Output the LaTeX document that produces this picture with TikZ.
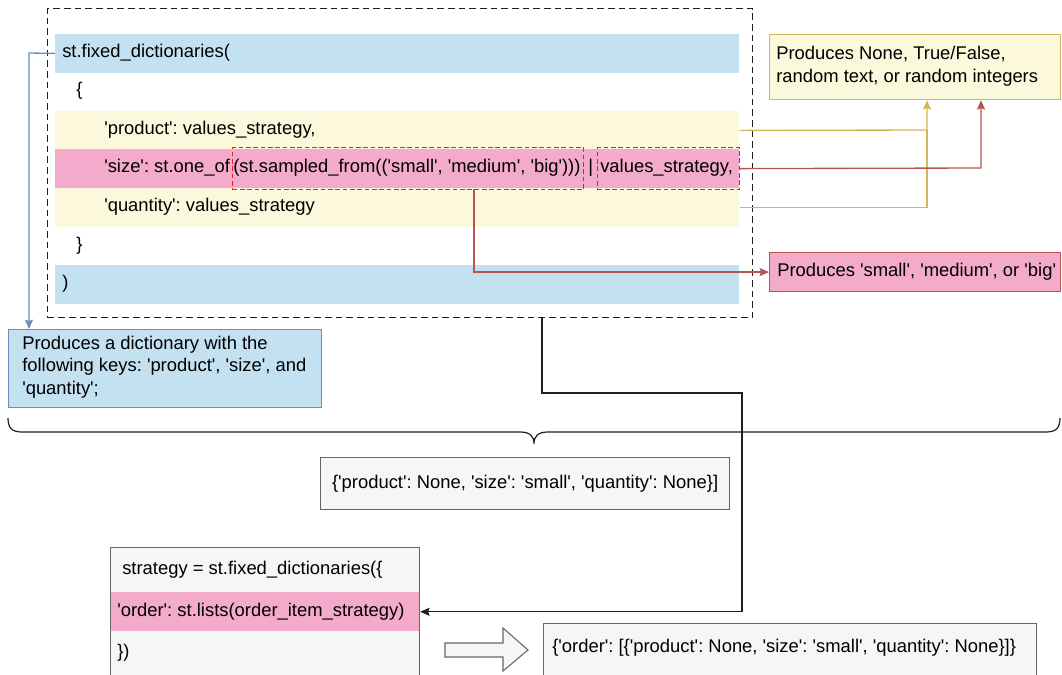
\documentclass[tikz,border=0pt]{standalone}
\usepackage{fontspec}
\setmainfont{Liberation Sans}[Ligatures=TeXOff]
\usetikzlibrary{arrows.meta,calc}
\frenchspacing
\definecolor{barblue}{RGB}{196,225,241}
\definecolor{baryellow}{RGB}{252,248,220}
\definecolor{barpink}{RGB}{244,170,202}
\definecolor{ylw}{RGB}{214,182,86}
\definecolor{rdl}{RGB}{184,84,80}
\definecolor{bll}{RGB}{108,142,191}
\definecolor{grayfill}{RGB}{245,246,245}
\definecolor{grayline}{RGB}{102,102,102}
\definecolor{dashred}{RGB}{235,30,30}
\definecolor{darkline}{RGB}{30,30,30}
\tikzset{
  txt/.style={anchor=west, inner sep=0pt, align=left},
  bar/.style={anchor=north west, inner sep=0pt, minimum width=513pt, minimum height=28.75pt},
  redbox/.style={draw=dashred, dash pattern=on 3.5pt off 2pt, line width=0.9pt},
  ann/.style={anchor=north west, inner sep=0pt, line width=0.9pt},
  graybox/.style={draw=grayline, fill=grayfill, line width=0.9pt},
  arr/.style={-{Stealth[length=7pt,width=6pt,inset=1pt]}, line width=1pt},
  codefont/.style={font=\fontsize{13.8}{16.9}\selectfont}
}
\begin{document}
\begin{tikzpicture}[x=0.75pt,y=-0.75pt, codefont]
\useasboundingbox (0,0) rectangle (1062,674);

% outer dashed box
\node[draw=darkline, dash pattern=on 5pt off 3pt, line width=0.9pt, anchor=north west,
      minimum width=528.75pt, minimum height=231.75pt, inner sep=0pt] (dash) at (47,8) {};

% bars
\node[bar, fill=barblue] (b1) at (55,34) {};
\node[bar, fill=baryellow] (pbar) at (55,111) {};
\node[bar, fill=barpink, minimum height=29.25pt] (sbar) at (55,149) {};
\node[bar, fill=baryellow] (qbar) at (55,188) {};
\node[bar, fill=barblue] (b2) at (55,265) {};

% red dashed boxes
\node[redbox, anchor=north west, minimum width=263.25pt, minimum height=31.5pt, inner sep=0pt] (sf) at (232,147) {};
\node[redbox, anchor=north west, minimum width=106.5pt, minimum height=31.5pt, inner sep=0pt] (vs) at (597,147) {};

% code text
\node[txt] (t1) at (62,53) {st.fixed\_dictionaries(};
\node[txt] (t2) at (76,91) {\{};
\node[txt] (t3) at (104,130) {'product': values\_strategy,};
\node[txt] (t4a) at (104,168) {'size': st.one\_of};
\node[txt] (t4b) at (233,168) {(st.sampled\_from(('small', 'medium', 'big')))};
\node[txt] (t4c) at (588,168) {|};
\node[txt] (t4d) at (600,168) {values\_strategy,};
\node[txt] (t5) at (104,207) {'quantity': values\_strategy};
\node[txt] (t6) at (76,246) {\}};
\node[txt] (t7) at (62,284) {)};

% annotations
\node[ann, draw=ylw, fill=baryellow, minimum width=218.25pt, minimum height=48.75pt] (ann1) at (769,34) {};
\node[txt] (ann1t) at (776,66.5) {Produces None, True/False,\\random text, or random integers};
\node[ann, draw=rdl, fill=barpink, minimum width=218.25pt, minimum height=29.25pt] (ann2) at (769,252) {};
\node[txt] (ann2t) at (777,271.5) {Produces 'small', 'medium', or 'big'};
\node[ann, draw=bll, fill=barblue, minimum width=234.75pt, minimum height=58.5pt] (ann3) at (8,329) {};
\node[txt] (ann3t) at (22,367) {Produces a dictionary with the\\following keys: 'product', 'size', and\\'quantity';};

% connectors
\coordinate (yj) at (927,130);
\draw[ylw, line width=1pt] (qbar.east) -| (yj);
\draw[arr, ylw] (pbar.east) -- (yj) -- (yj |- ann1.south);
\coordinate (rj) at (981,168);
\draw[arr, rdl] (vs.east) -- (rj) -- (rj |- ann1.south);
\coordinate (r2) at (474,189);
\draw[arr, rdl] (r2) |- (ann2.west);
\coordinate (bj) at (29,53);
\draw[arr, bll] (b1.west) -- (bj) -- (bj |- ann3.north);

% brace
\draw[darkline, line width=0.9pt] (8,418) .. controls (8,428) and (12,432) .. (22,432) -- (520,432)
  .. controls (530,432) and (534,436) .. (534,444)
  .. controls (534,436) and (538,432) .. (548,432) -- (1046,432)
  .. controls (1056,432) and (1060,428) .. (1060,418);

% output box
\node[graybox, anchor=north west, minimum width=306.75pt, minimum height=39pt, inner sep=0pt] (out1) at (320,457)
  {\{'product': None, 'size': 'small', 'quantity': None\}]};

% strategy box
\node[graybox, anchor=north west, minimum width=231.75pt, minimum height=105pt, inner sep=0pt] (strat) at (110,547) {};
\node[bar, fill=barpink, minimum width=231pt, minimum height=29.25pt] (orow) at (110.5,592) {};
\node[txt] (s1) at (122,570) {strategy = st.fixed\_dictionaries(\{};
\node[txt] (s2) at (117,611.5) {'order': st.lists(order\_item\_strategy)};
\node[txt] (s3) at (117,653) {\})};

% black connector
\coordinate (k0) at (542,393);
\coordinate (k1) at (742,393);
\draw[arr, darkline] (dash.south -| k0) -- (k0) -- (k1) |- (strat.east |- orow.east);

% hollow arrow
\draw[grayline, fill=grayfill, line width=0.8pt] (445,643) -- (503,643) -- (503,628) -- (528,650) -- (503,671) -- (503,657) -- (445,657) -- cycle;

% result box
\node[graybox, anchor=north west, minimum width=369.75pt, minimum height=60pt, inner sep=0pt] (res) at (543,623) {};
\node[txt] (r1) at (552,648) {\{'order': [\{'product': None, 'size': 'small', 'quantity': None\}]\}};
\end{tikzpicture}
\end{document}
